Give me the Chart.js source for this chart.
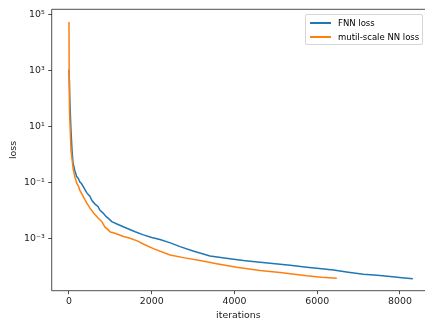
<!DOCTYPE html>
<html>
<head>
<meta charset="utf-8">
<script src="https://cdn.jsdelivr.net/npm/chart.js@4/dist/chart.umd.min.js"></script>
<style>
  html, body { margin: 0; padding: 0; background: #fff; overflow: hidden; width: 425px; height: 322px; }
  #wrap { position: relative; width: 425px; height: 322px; overflow: hidden; background: #fff; }
  #c { position: absolute; left: 0; top: 0; }
  #legend { position: absolute; left: 305px; top: 14px; width: 118px; height: 31px;
    border: 1px solid rgba(204,204,204,0.8); border-radius: 2px; background: rgba(255,255,255,0.8);
    font-family: "DejaVu Sans", sans-serif; font-size: 8.5px; color: #000; box-sizing: border-box; }
  .sw { position: absolute; left: 4px; width: 21px; height: 1.5px; }
  .lt { position: absolute; left: 32px; line-height: 10px; white-space: nowrap; }
</style>
</head>
<body>
<div id="wrap">
  <canvas id="c" width="425" height="322"></canvas>
  <div id="legend">
    <div class="sw" style="top:7px;background:#1f77b4"></div>
    <div class="lt" style="top:2.5px">FNN loss</div>
    <div class="sw" style="top:21px;background:#ff7f0e"></div>
    <div class="lt" style="top:16.5px">mutil-scale NN loss</div>
  </div>
</div>
<script>
// ---- data ----
const seriesNames = ["FNN loss", "mutil-scale NN loss"];
const fnnIter = [0, 24, 48, 73, 97, 140, 186, 230, 260, 300, 346, 390, 428, 470, 500, 560, 629, 700, 750, 820, 900, 960, 1033, 1200, 1395, 1600, 1797, 2000, 2200, 2450, 2684, 3000, 3410, 3800, 4215, 4500, 4861, 5345, 5748, 6050, 6392, 6750, 7117, 7450, 7763, 8050, 8312];
const fnnLoss = [1100, 61, 7.8, 1.5, 0.52, 0.28, 0.168, 0.14, 0.11, 0.095, 0.074, 0.056, 0.045, 0.038, 0.034, 0.023, 0.0175, 0.0145, 0.0105, 0.0085, 0.0062, 0.0053, 0.00415, 0.0032, 0.00241, 0.0018, 0.00139, 0.00112, 0.00095, 0.00072, 0.000531, 0.00037, 0.000247, 0.000205, 0.000168, 0.000152, 0.000136, 0.000115, 9.75e-5, 8.8e-5, 7.8e-5, 6.5e-5, 5.5e-5, 5.0e-5, 4.5e-5, 4.1e-5, 3.8e-5];
const msIter = [0, 5, 12, 48, 104, 150, 186, 230, 260, 300, 346, 420, 508, 600, 709, 790, 871, 950, 1000, 1112, 1300, 1475, 1650, 1797, 2039, 2443, 2800, 3168, 3600, 4056, 4619, 5103, 5748, 6100, 6474];
const msLoss = [56000, 480, 40, 1.5, 0.29, 0.15, 0.0975, 0.075, 0.055, 0.043, 0.0324, 0.02, 0.0125, 0.0082, 0.00548, 0.0042, 0.00262, 0.0021, 0.00175, 0.0016, 0.00125, 0.00106, 0.00085, 0.00066, 0.00045, 0.000268, 0.00021, 0.000168, 0.000128, 9.75e-5, 7.4e-5, 6.25e-5, 4.8e-5, 4.3e-5, 3.95e-5];
const xTicks = [0, 2000, 4000, 6000, 8000];
const yTicks = [1e-3, 1e-1, 1e1, 1e3, 1e5];
const yTickLabels = ["10\u207B\u00B3", "10\u207B\u00B9", "10\u00B9", "10\u00B3", "10\u2075"];

const FONT = { family: "DejaVu Sans", size: 9.4 };

// axes frame: left, top, bottom spines (right spine lies beyond the cropped image edge)
const framePlugin = {
  id: 'frame',
  afterDraw(chart) {
    const { ctx, chartArea: a } = chart;
    ctx.save();
    ctx.strokeStyle = '#222';
    ctx.lineWidth = 0.8;
    ctx.beginPath();
    ctx.moveTo(a.right + 2, a.top);
    ctx.lineTo(a.left, a.top);
    ctx.lineTo(a.left, a.bottom);
    ctx.lineTo(a.right + 2, a.bottom);
    ctx.stroke();
    ctx.restore();
  }
};

new Chart(document.getElementById('c'), {
  type: 'line',
  data: {
    datasets: [
      { label: seriesNames[0], data: fnnIter.map((x, i) => ({ x, y: fnnLoss[i] })),
        borderColor: '#1f77b4', borderWidth: 1.5, pointRadius: 0, tension: 0, order: 1 },
      { label: seriesNames[1], data: msIter.map((x, i) => ({ x, y: msLoss[i] })),
        borderColor: '#ff7f0e', borderWidth: 1.5, pointRadius: 0, tension: 0, order: 0 }
    ]
  },
  options: {
    responsive: false,
    animation: false,
    devicePixelRatio: 1,
    layout: { padding: { left: 0, right: 0, top: 9.3, bottom: 0 } },
    plugins: { legend: { display: false }, tooltip: { enabled: false } },
    scales: {
      x: {
        type: 'linear', min: -418, max: 8606,
        afterBuildTicks: s => { s.ticks = xTicks.map(v => ({ value: v })); },
        afterFit: s => { s.height = 31.3; },
        grid: { drawOnChartArea: false, drawTicks: true, tickLength: 3.5, tickColor: '#222', tickWidth: 0.8 },
        border: { display: false },
        ticks: { font: FONT, color: '#222', padding: 2.2, maxRotation: 0, autoSkip: false,
                 callback: v => String(v) },
        title: { display: true, text: 'iterations', font: FONT, color: '#222', padding: { top: 0, bottom: 0.4 } }
      },
      y: {
        type: 'logarithmic', min: Math.pow(10, -4.85), max: Math.pow(10, 5.2),
        afterBuildTicks: s => { s.ticks = yTicks.map(v => ({ value: v })); },
        afterFit: s => { s.width = 51.7; },
        grid: { drawOnChartArea: false, drawTicks: true, tickLength: 3.5, tickColor: '#222', tickWidth: 0.8 },
        border: { display: false },
        ticks: { font: FONT, color: '#222', padding: 3.5, autoSkip: false,
                 callback: (v, i) => yTickLabels[i] },
        title: { display: true, text: 'loss', font: FONT, color: '#222', padding: { top: 7.7, bottom: 0 } }
      }
    }
  },
  plugins: [framePlugin]
});
</script>
</body>
</html>
